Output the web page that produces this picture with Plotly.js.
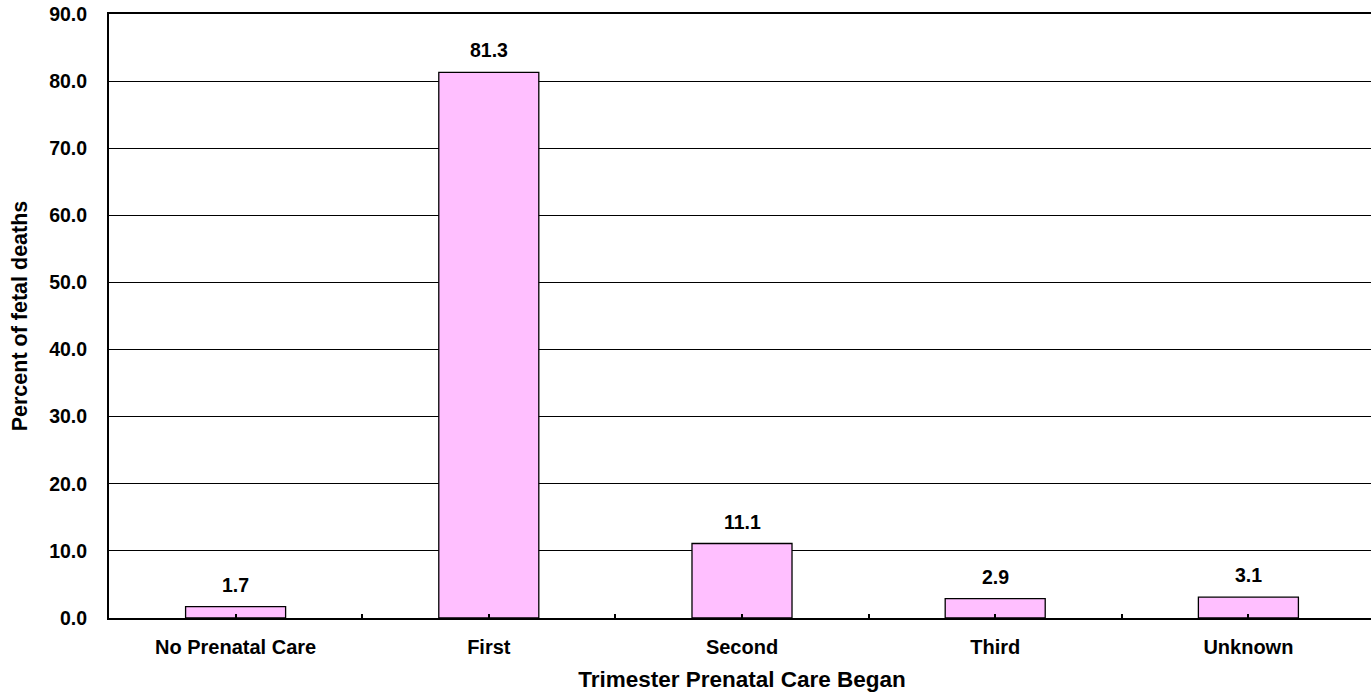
<!DOCTYPE html>
<html><head><meta charset="utf-8">
<script src="https://cdn.plot.ly/plotly-3.0.1.min.js"></script>
<style>html,body{margin:0;padding:0;overflow:hidden;background:#fff;width:1371px;height:700px}</style>
</head><body><div id="chart"></div>
<script>
var categories = ["No Prenatal Care", "First", "Second", "Third", "Unknown"];
var percents = [1.7, 81.3, 11.1, 2.9, 3.1];
var valueLabels = ["1.7", "81.3", "11.1", "2.9", "3.1"];
var yTickVals = [0, 10, 20, 30, 40, 50, 60, 70, 80, 90];
var yTickText = ["0.0", "10.0", "20.0", "30.0", "40.0", "50.0", "60.0", "70.0", "80.0", "90.0"];

var font = "Liberation Sans, Arial, sans-serif";
var traces = [{
  type: "bar", x: categories, y: percents,
  marker: {color: "#FFBFFF", line: {color: "#000", width: 1.3}},
  width: 0.395, hoverinfo: "skip"
}, {
  type: "bar", x: categories, y: percents, xaxis: "x2",
  marker: {color: "rgba(0,0,0,0)"}, hoverinfo: "skip", showlegend: false
}];
var annotations = categories.map(function (c, i) {
  return {x: c, y: percents[i], text: valueLabels[i], showarrow: false,
    xref: "x", yref: "y", yanchor: "bottom", yshift: 9,
    font: {family: font, size: 19.5, color: "#000", weight: "bold"}};
});
var layout = {
  width: 1375, height: 700,
  margin: {l: 109, r: 0, t: 14, b: 82},
  paper_bgcolor: "#fff", plot_bgcolor: "#fff",
  showlegend: false,
  font: {family: font, color: "#000"},
  annotations: annotations,
  xaxis: {
    type: "category", categoryarray: categories, range: [-0.5, 4.5],
    ticks: "inside", ticklen: 4, tickwidth: 2, tickcolor: "#000",
    showline: true, linecolor: "#000", linewidth: 2, mirror: true,
    showgrid: false, zeroline: false, ticklabelstandoff: 10,
    tickfont: {family: font, size: 20, weight: "bold"},
    title: {text: "Trimester Prenatal Care Began", font: {family: font, size: 22.5, weight: "bold"}, standoff: 14}
  },
  xaxis2: {
    type: "category", categoryarray: categories, range: [-0.5, 4.5],
    overlaying: "x", tickson: "boundaries", ticks: "inside", ticklen: 4, tickwidth: 2, tickcolor: "#000",
    showticklabels: false, showgrid: false, zeroline: false, showline: false
  },
  yaxis: {
    range: [0, 90], tickvals: yTickVals, ticktext: yTickText,
    ticks: "inside", ticklen: 6, tickwidth: 1, tickcolor: "#000",
    showline: true, linecolor: "#000", linewidth: 2,
    showgrid: true, gridcolor: "#000", gridwidth: 1, zeroline: false,
    ticklabelstandoff: 16,
    tickfont: {family: font, size: 19.5, weight: "bold"},
    title: {text: "Percent of fetal deaths", font: {family: font, size: 21.5, weight: "bold"}, standoff: 16}
  }
};
Plotly.newPlot("chart", traces, layout, {displayModeBar: false, staticPlot: true});
</script></body></html>
